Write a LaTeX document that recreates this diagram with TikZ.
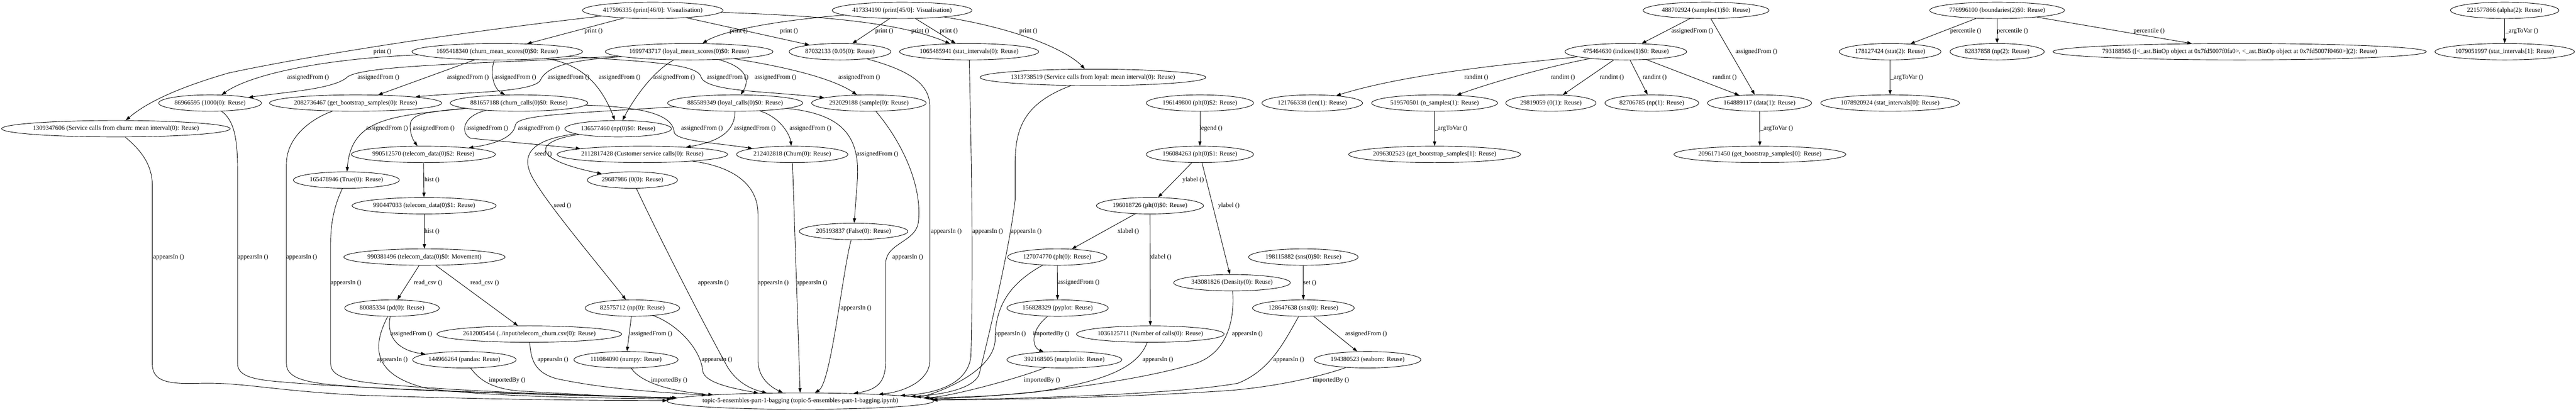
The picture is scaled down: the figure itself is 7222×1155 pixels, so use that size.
\documentclass[tikz,border=0pt]{standalone}
\usepackage{fontspec}
\setmainfont{Liberation Serif}
\usetikzlibrary{shapes.geometric,arrows.meta}
\tikzset{
  gn/.style={ellipse, draw, line width=1.3pt, minimum height=46pt, inner sep=0pt},
  gt/.style={font=\fontsize{17.9}{21}\selectfont, inner sep=0pt},
  elab/.style={font=\fontsize{17.9}{21}\selectfont, inner sep=0pt},
  e/.style={line width=1.3pt, -{Triangle[length=12.8pt,width=9pt]}},
}
\newcommand{\gv}[5]{\node[gn,minimum width=#4pt] (#1) at (#2,#3) {}; \node[gt] (#1-t) at (#1.center) {#5};}
\begin{document}
\begin{tikzpicture}[x=1pt,y=-1pt]
\fill[white] (0,0) rectangle (7222,1155);
\useasboundingbox (0,0) rectangle (7222,1155);
% ---------- nodes ----------
\gv{n417596}{1830}{29}{394}{417596335 (print[46/0]: Visualisation)}
\gv{n417334}{2529}{29}{392}{417334190 (print[45/0]: Visualisation)}
\gv{n488702}{4783}{29}{353}{488702924 (samples(1)\$0: Reuse)}
\gv{n776996}{5599}{29}{378}{776996100 (boundaries(2)\$0: Reuse)}
\gv{n221577}{7022}{29}{304}{221577866 (alpha(2): Reuse)}
\gv{n1695}{1394}{145}{478}{1695418340 (churn\_mean\_scores(0)\$0: Reuse)}
\gv{n1699}{1932}{145}{470}{1699743717 (loyal\_mean\_scores(0)\$0: Reuse)}
\gv{n8703}{2355}{145}{285}{87032133 (0.05(0): Reuse)}
\gv{n1065}{2717}{145}{390}{1065485941 (stat\_intervals(0): Reuse)}
\gv{n4754}{4558}{145}{341}{475464630 (indices(1)\$0: Reuse)}
\gv{n1781}{5299}{145}{285}{178127424 (stat(2): Reuse)}
\gv{n8283}{5599}{145}{264}{82837858 (np(2): Reuse)}
\gv{n7931}{6279}{145}{1047}{793188565 ([<\_ast.BinOp object at 0x7fd5007f0fa0>, <\_ast.BinOp object at 0x7fd5007f0460>](2): Reuse)}
\gv{n1079}{7022}{145}{391}{1079051997 (stat\_intervals[1]: Reuse)}
\gv{n1313}{3064}{217}{633}{1313738519 (Service calls from loyal: mean interval(0): Reuse)}
\gv{n8696}{589}{289}{288}{86966595 (1000(0): Reuse)}
\gv{n2082}{997}{289}{483}{2082736467 (get\_bootstrap\_samples(0): Reuse)}
\gv{n8816}{1455}{289}{386}{881657188 (churn\_calls(0)\$0: Reuse)}
\gv{n8855}{2061}{289}{379}{885589349 (loyal\_calls(0)\$0: Reuse)}
\gv{n2920}{2436}{289}{321}{292029188 (sample(0): Reuse)}
\gv{n1961}{3364}{289}{301}{196149800 (plt(0)\$2: Reuse)}
\gv{n1217}{3679}{289}{282}{121766338 (len(1): Reuse)}
\gv{n5195}{4022}{289}{353}{519570501 (n\_samples(1): Reuse)}
\gv{n2981}{4348}{289}{253}{29819059 (0(1): Reuse)}
\gv{n8270}{4631}{289}{263}{82706785 (np(1): Reuse)}
\gv{n1648}{4933}{289}{292}{164889117 (data(1): Reuse)}
\gv{n1078}{5299}{289}{389}{1078920924 (stat\_intervals[0]: Reuse)}
\gv{n1309}{325}{361}{641}{1309347606 (Service calls from churn: mean interval(0): Reuse)}
\gv{n1365}{1733}{361}{299}{136577460 (np(0)\$0: Reuse)}
\gv{n9905}{1187}{433}{404}{990512570 (telecom\_data(0)\$2: Reuse)}
\gv{n2112}{1801}{433}{478}{2112817428 (Customer service calls(0): Reuse)}
\gv{n2124}{2221}{433}{312}{212402818 (Churn(0): Reuse)}
\gv{n1960}{3364}{433}{301}{196084263 (plt(0)\$1: Reuse)}
\gv{n2096b}{4022}{433}{482}{2096302523 (get\_bootstrap\_samples[1]: Reuse)}
\gv{n2096a}{4934}{433}{482}{2096171450 (get\_bootstrap\_samples[0]: Reuse)}
\gv{n1654}{971}{505}{297}{165478946 (True(0): Reuse)}
\gv{n2968}{1773}{505}{253}{29687986 (0(0): Reuse)}
\gv{n9904}{1189}{577}{404}{990447033 (telecom\_data(0)\$1: Reuse)}
\gv{n1960b}{3224}{577}{300}{196018726 (plt(0)\$0: Reuse)}
\gv{n2051}{2393}{649}{304}{205193837 (False(0): Reuse)}
\gv{n9903}{1190}{721}{452}{990381496 (telecom\_data(0)\$0: Movement)}
\gv{n1270}{2964}{721}{278}{127074770 (plt(0): Reuse)}
\gv{n1981}{3654}{721}{307}{198115882 (sns(0)\$0: Reuse)}
\gv{n3430}{3454}{793}{327}{343081826 (Density(0): Reuse)}
\gv{n8008}{1099}{864}{265}{80085334 (pd(0): Reuse)}
\gv{n8257}{1773}{864}{265}{82575712 (np(0): Reuse)}
\gv{n1568}{2965}{864}{284}{156828329 (pyplot: Reuse)}
\gv{n1286}{3654}{864}{285}{128647638 (sns(0): Reuse)}
\gv{n2612}{1484}{937}{518}{2612005454 (../input/telecom\_churn.csv(0): Reuse)}
\gv{n1036}{3225}{937}{414}{1036125711 (Number of calls(0): Reuse)}
\gv{n1449}{1302}{1009}{290}{144966264 (pandas: Reuse)}
\gv{n1110}{1755}{1009}{292}{111084090 (numpy: Reuse)}
\gv{n3921}{2984}{1009}{322}{392168505 (matplotlib: Reuse)}
\gv{n1943}{3834}{1009}{299}{194380523 (seaborn: Reuse)}
\gv{topic}{2244}{1125}{747}{topic-5-ensembles-part-1-bagging (topic-5-ensembles-part-1-bagging.ipynb)}
% ---------- print edges ----------
\draw[e] (n417596) .. controls (1200,100) and (800,170) .. (640,205) .. controls (520,240) and (420,280) .. (n1309);
\draw[e] (n417596) -- (n1695);
\draw[e] (n417596) -- (n8703);
\draw[e] (n417596) .. controls (2350,45) and (2540,70) .. (n1065);
\draw[e] (n417334) .. controls (2150,60) and (2020,90) .. (n1699);
\draw[e] (n417334) -- (n8703);
\draw[e] (n417334) -- (n1065);
\draw[e] (n417334) .. controls (2850,80) and (2990,140) .. (n1313);
% ---------- mean scores ----------
\draw[e] (n1695) .. controls (900,165) and (700,210) .. (n8696);
\draw[e] (n1699) .. controls (1400,178) and (1030,180) .. (975,215) .. controls (940,250) and (800,258) .. (n8696);
\draw[e] (n1695) -- (n2082);
\draw[e] (n1699) .. controls (1620,168) and (1535,180) .. (1515,225) .. controls (1495,260) and (1300,258) .. (n2082);
\draw[e] (n1695) .. controls (1375,200) and (1380,245) .. (n8816);
\draw[e] (n1695) .. controls (1640,180) and (1690,250) .. (n1365);
\draw[e] (n1699) .. controls (1830,200) and (1775,280) .. (n1365);
\draw[e] (n1695) .. controls (1800,172) and (1955,178) .. (1965,215) .. controls (1978,258) and (2150,255) .. (n2920);
\draw[e] (n1699) .. controls (2100,190) and (2100,230) .. (n8855);
\draw[e] (n1699) .. controls (2250,195) and (2350,230) .. (n2920);
% ---------- calls ----------
\draw[e] (n8816) .. controls (1100,325) and (985,330) .. (n1654);
\draw[e] (n8816) .. controls (1200,314) and (1152,318) .. (1150,350) .. controls (1149,378) and (1160,395) .. (n9905);
\draw[e] (n8816) .. controls (1295,325) and (1290,375) .. (1320,388) -- (n2112);
\draw[e] (n8816) .. controls (1800,300) and (1885,320) .. (1890,370) .. controls (1893,395) and (2000,400) .. (n2124);
\draw[e] (n8855) .. controls (1600,318) and (1452,322) .. (1445,350) .. controls (1440,388) and (1380,405) .. (n9905);
\draw[e] (n8855) .. controls (2060,360) and (2030,395) .. (n2112);
\draw[e] (n8855) .. controls (2190,330) and (2215,380) .. (n2124);
\draw[e] (n8855) .. controls (2360,320) and (2410,380) .. (2404,500) -- (n2051);
% ---------- np seed ----------
\draw[e] (n1365) .. controls (1500,395) and (1480,445) .. (n2968);
\draw[e] (n1365) .. controls (1480,392) and (1455,440) .. (1500,510) .. controls (1545,585) and (1680,745) .. (n8257);
% ---------- telecom data ----------
\draw[e] (n9905) -- (n9904);
\draw[e] (n9904) -- (n9903);
\draw[e] (n9903) -- (n8008);
\draw[e] (n9903) -- (n2612);
\draw[e] (n8008) .. controls (1085,930) and (1100,980) .. (n1449);
\draw[e] (n8257) -- (n1110);
% ---------- plotting ----------
\draw[e] (n1961) -- (n1960);
\draw[e] (n1960) -- (n1960b);
\draw[e] (n1960) -- (n3430);
\draw[e] (n1960b) -- (n1270);
\draw[e] (n1960b) -- (n1036);
\draw[e] (n1270) -- (n1568);
\draw[e] (n1568) .. controls (2885,930) and (2895,975) .. (n3921);
\draw[e] (n1981) -- (n1286);
\draw[e] (n1286) -- (n1943);
% ---------- right clusters ----------
\draw[e] (n488702) -- (n4754);
\draw[e] (n488702) -- (n1648);
\draw[e] (n4754) .. controls (4250,178) and (3950,205) .. (n1217);
\draw[e] (n4754) .. controls (4350,185) and (4200,225) .. (n5195);
\draw[e] (n4754) -- (n2981);
\draw[e] (n4754) -- (n8270);
\draw[e] (n4754) -- (n1648);
\draw[e] (n5195) -- (n2096b);
\draw[e] (n1648) -- (n2096a);
\draw[e] (n776996) -- (n1781);
\draw[e] (n776996) -- (n8283);
\draw[e] (n776996) -- (n7931);
\draw[e] (n1781) -- (n1078);
\draw[e] (n221577) -- (n1079);
% ---------- appearsIn / importedBy to topic ----------
\draw[e] (n1309) .. controls (380,410) and (427,450) .. (427,520) -- (427,1020) .. controls (427,1070) and (470,1078) .. (560,1075) .. controls (680,1072) and (760,1095) .. (1000,1108) .. controls (1400,1122) and (1700,1123) .. (topic);
\draw[e] (n8696) .. controls (660,340) and (666,400) .. (666,480) -- (666,1020) .. controls (666,1058) and (720,1066) .. (800,1072) .. controls (1000,1090) and (1500,1106) .. (topic);
\draw[e] (n2082) .. controls (880,330) and (803,380) .. (803,460) -- (803,1020) .. controls (803,1058) and (850,1070) .. (920,1078) .. controls (1100,1096) and (1500,1106) .. (topic);
\draw[e] (n1654) .. controls (950,550) and (927,600) .. (927,680) -- (927,1020) .. controls (927,1060) and (990,1070) .. (1080,1078) .. controls (1300,1098) and (1600,1108) .. (topic);
\draw[e] (n8008) .. controls (1050,960) and (1030,1050) .. (1200,1090) .. controls (1400,1115) and (1700,1116) .. (topic);
\draw[e] (n1449) .. controls (1340,1060) and (1370,1088) .. (1450,1096) .. controls (1600,1106) and (1800,1115) .. (topic);
\draw[e] (n2612) .. controls (1488,1010) and (1500,1045) .. (1560,1062) .. controls (1700,1092) and (1850,1100) .. (topic);
\draw[e] (n1110) .. controls (1790,1065) and (1860,1097) .. (topic);
\draw[e] (n8257) .. controls (1900,910) and (1965,980) .. (1970,1040) .. controls (1975,1075) and (2060,1090) .. (topic);
\draw[e] (n2968) .. controls (1860,690) and (1990,940) .. (2040,1030) .. controls (2065,1070) and (2100,1090) .. (topic);
\draw[e] (n2112) .. controls (2060,468) and (2125,520) .. (2125,600) -- (2125,1010) .. controls (2125,1060) and (2160,1085) .. (topic);
\draw[e] (n2124) -- (topic);
\draw[e] (n2051) .. controls (2362,760) and (2330,1075) .. (topic);
\draw[e] (n2920) .. controls (2530,400) and (2585,520) .. (2575,620) .. controls (2570,680) and (2483,680) .. (2483,740) -- (2483,1010) .. controls (2483,1062) and (2470,1092) .. (topic);
\draw[e] (n8703) .. controls (2560,200) and (2607,240) .. (2607,300) -- (2607,1010) .. controls (2607,1070) and (2530,1100) .. (topic);
\draw[e] (n1065) .. controls (2722,400) and (2730,700) .. (2722,1000) .. controls (2712,1080) and (2620,1104) .. (topic);
\draw[e] (n1313) .. controls (2870,290) and (2846,360) .. (2846,460) -- (2846,560) .. controls (2830,700) and (2770,950) .. (2745,1050) .. controls (2730,1090) and (2640,1108) .. (topic);
\draw[e] (n1270) .. controls (2840,790) and (2790,850) .. (2790,950) .. controls (2790,1050) and (2600,1112) .. (topic);
\draw[e] (n3921) .. controls (2860,1060) and (2660,1114) .. (topic);
\draw[e] (n1036) .. controls (3190,1030) and (3100,1070) .. (2900,1100) .. controls (2780,1112) and (2690,1114) .. (topic);
\draw[e] (n3430) .. controls (3462,900) and (3440,990) .. (3350,1020) .. controls (3150,1080) and (2800,1115) .. (topic);
\draw[e] (n1286) .. controls (3600,960) and (3560,1040) .. (3470,1075) .. controls (3300,1105) and (2900,1118) .. (topic);
\draw[e] (n1943) .. controls (3720,1050) and (3600,1082) .. (3450,1095) .. controls (3200,1112) and (2900,1120) .. (topic);
% ---------- edge labels ----------
\node[elab] (p1) at (1072,145) {print ()};
\node[elab] (p2) at (1664,87) {print ()};
\node[elab] (p3) at (2071,87) {print ()};
\node[elab] (p4) at (2212,87) {print ()};
\node[elab] (p5) at (2479,87) {print ()};
\node[elab] (p6) at (2580,87) {print ()};
\node[elab] (p7) at (2660,87) {print ()};
\node[elab] (p8) at (2883,87) {print ()};
\node[elab] (a1) at (864,217) {assignedFrom ()};
\node[elab] (a2) at (1061,217) {assignedFrom ()};
\node[elab] (a3) at (1312,217) {assignedFrom ()};
\node[elab] (a4) at (1445,217) {assignedFrom ()};
\node[elab] (a5) at (1594,217) {assignedFrom ()};
\node[elab] (a6) at (1737,217) {assignedFrom ()};
\node[elab] (a7) at (1890,217) {assignedFrom ()};
\node[elab] (a8) at (2040,217) {assignedFrom ()};
\node[elab] (a9) at (2174,217) {assignedFrom ()};
\node[elab] (a10) at (2409,217) {assignedFrom ()};
\node[elab] (b1) at (1085,361) {assignedFrom ()};
\node[elab] (b2) at (1216,361) {assignedFrom ()};
\node[elab] (b3) at (1366,361) {assignedFrom ()};
\node[elab] (b4) at (1511,361) {assignedFrom ()};
\node[elab] (b5) at (1968,361) {assignedFrom ()};
\node[elab] (b6) at (2116,361) {assignedFrom ()};
\node[elab] (b7) at (2272,361) {assignedFrom ()};
\node[elab] (b8) at (2460,433) {assignedFrom ()};
\node[elab] (s1) at (1523,433) {seed ()};
\node[elab] (s2) at (1577,577) {seed ()};
\node[elab] (h1) at (1211,505) {hist ()};
\node[elab] (h2) at (1211,649) {hist ()};
\node[elab] (r1) at (1200,793) {read\_csv ()};
\node[elab] (r2) at (1359,793) {read\_csv ()};
\node[elab] (c1) at (1153,937) {assignedFrom ()};
\node[elab] (c2) at (1826,937) {assignedFrom ()};
\node[elab] (c3) at (3024,793) {assignedFrom ()};
\node[elab] (c4) at (3830,937) {assignedFrom ()};
\node[elab] (ap1) at (473,721) {appearsIn ()};
\node[elab] (ap2) at (709,721) {appearsIn ()};
\node[elab] (ap3) at (846,721) {appearsIn ()};
\node[elab] (ap4) at (970,793) {appearsIn ()};
\node[elab] (ap5) at (1100,1009) {appearsIn ()};
\node[elab] (ap6) at (1550,1009) {appearsIn ()};
\node[elab] (ap7) at (2010,1009) {appearsIn ()};
\node[elab] (ap8) at (2000,793) {appearsIn ()};
\node[elab] (ap9) at (2168,793) {appearsIn ()};
\node[elab] (ap10) at (2276,793) {appearsIn ()};
\node[elab] (ap11) at (2400,864) {appearsIn ()};
\node[elab] (ap12) at (2545,721) {appearsIn ()};
\node[elab] (ap13) at (2653,649) {appearsIn ()};
\node[elab] (ap14) at (2769,649) {appearsIn ()};
\node[elab] (ap15) at (2877,649) {appearsIn ()};
\node[elab] (ap16) at (2833,937) {appearsIn ()};
\node[elab] (ap17) at (3246,1009) {appearsIn ()};
\node[elab] (ap18) at (3497,937) {appearsIn ()};
\node[elab] (ap19) at (3613,1009) {appearsIn ()};
\node[elab] (i1) at (1422,1067) {importedBy ()};
\node[elab] (i2) at (1876,1067) {importedBy ()};
\node[elab] (i3) at (2947,937) {importedBy ()};
\node[elab] (i4) at (2921,1067) {importedBy ()};
\node[elab] (i5) at (3731,1067) {importedBy ()};
\node[elab] (x1) at (3163,649) {xlabel ()};
\node[elab] (x2) at (3254,721) {xlabel ()};
\node[elab] (y1) at (3345,505) {ylabel ()};
\node[elab] (y2) at (3445,577) {ylabel ()};
\node[elab] (lg) at (3395,361) {legend ()};
\node[elab] (st) at (3672,793) {set ()};
\node[elab] (ri1) at (4139,217) {randint ()};
\node[elab] (ri2) at (4382,217) {randint ()};
\node[elab] (ri3) at (4519,217) {randint ()};
\node[elab] (ri4) at (4639,217) {randint ()};
\node[elab] (ri5) at (4835,217) {randint ()};
\node[elab] (d1) at (4744,87) {assignedFrom ()};
\node[elab] (d2) at (4924,145) {assignedFrom ()};
\node[elab] (v1) at (4068,361) {\_argToVar ()};
\node[elab] (v2) at (4981,361) {\_argToVar ()};
\node[elab] (v3) at (5346,217) {\_argToVar ()};
\node[elab] (v4) at (7070,87) {\_argToVar ()};
\node[elab] (pc1) at (5511,87) {percentile ()};
\node[elab] (pc2) at (5642,87) {percentile ()};
\node[elab] (pc3) at (6025,87) {percentile ()};
\end{tikzpicture}
\end{document}
